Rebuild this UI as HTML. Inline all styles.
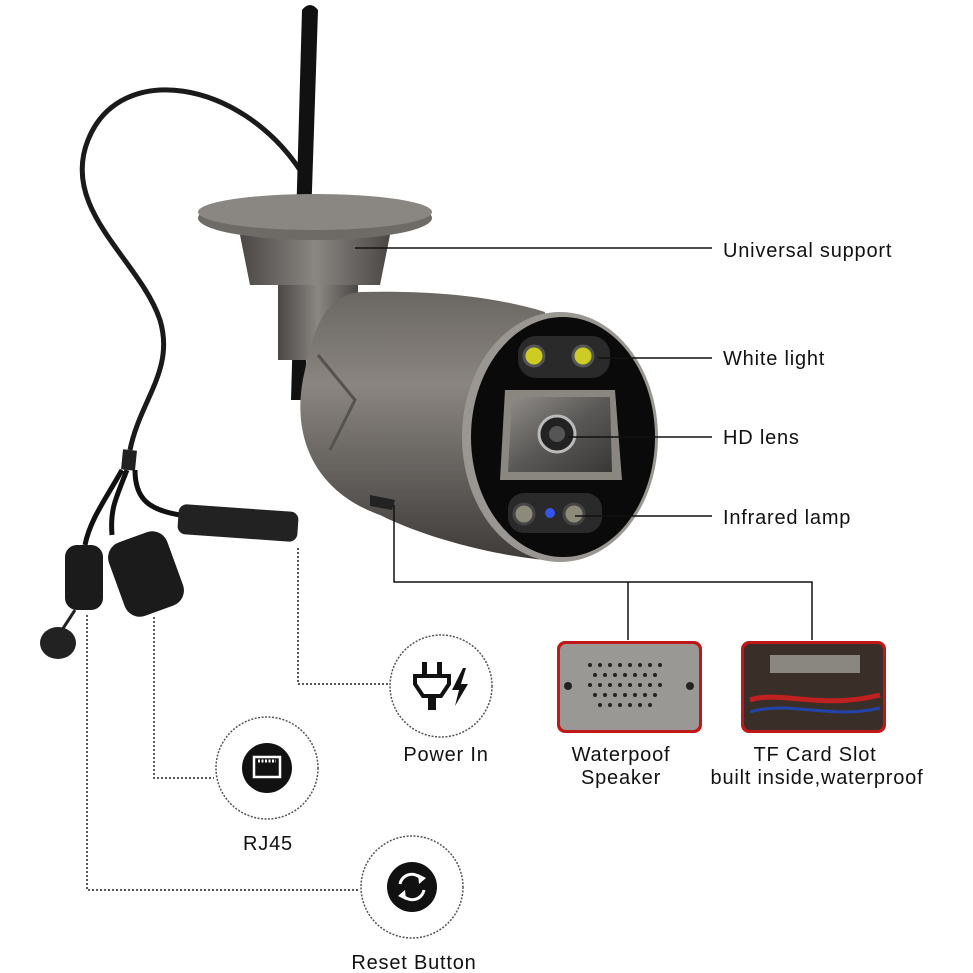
<!DOCTYPE html>
<html><head><meta charset="utf-8"><style>
html,body{margin:0;padding:0;background:#fff;width:973px;height:973px;overflow:hidden}
svg{display:block}
text{font-family:"Liberation Sans",sans-serif;fill:#111;letter-spacing:0.8px}
</style></head><body>
<svg width="973" height="973" viewBox="0 0 973 973" xmlns="http://www.w3.org/2000/svg">
<defs>
<linearGradient id="body" x1="0" y1="0" x2="0" y2="1">
<stop offset="0" stop-color="#6a6662"/><stop offset="0.35" stop-color="#8a8580"/><stop offset="1" stop-color="#3e3b39"/>
</linearGradient>
<linearGradient id="mount" x1="0" y1="0" x2="1" y2="0">
<stop offset="0" stop-color="#4a4745"/><stop offset="0.5" stop-color="#8a8682"/><stop offset="1" stop-color="#4a4745"/>
</linearGradient>
<linearGradient id="lens" x1="0" y1="0" x2="1" y2="1">
<stop offset="0" stop-color="#8f8c88"/><stop offset="0.5" stop-color="#5a5856"/><stop offset="1" stop-color="#3a3836"/>
</linearGradient>
</defs>

<path d="M300 170 C240 80 120 60 88 140 C60 210 140 260 160 320 C175 370 140 400 130 450" fill="none" stroke="#1a1a1a" stroke-width="5"/>
<path d="M130 450 L128 470" stroke="#222" stroke-width="14"/>
<path d="M122 470 C105 500 90 520 85 545" fill="none" stroke="#111" stroke-width="5"/>
<path d="M127 470 C115 500 110 510 112 535" fill="none" stroke="#111" stroke-width="5"/>
<path d="M135 470 C135 500 150 510 180 515" fill="none" stroke="#111" stroke-width="5"/>
<rect x="178" y="508" width="120" height="30" rx="8" fill="#222" transform="rotate(4 238 523)"/>
<rect x="65" y="545" width="38" height="65" rx="12" fill="#1b1b1b"/>
<ellipse cx="58" cy="643" rx="18" ry="16" fill="#222"/>
<path d="M75 610 L62 630" stroke="#222" stroke-width="3"/>
<rect x="115" y="535" width="62" height="78" rx="16" fill="#1b1b1b" transform="rotate(-20 146 574)"/>

<path d="M302 10 Q310 0 318 10 L305 400 L291 400 Z" fill="#111"/>

<rect x="278" y="230" width="80" height="130" fill="url(#mount)"/>
<path d="M240 235 L390 235 L380 285 L250 285 Z" fill="url(#mount)"/>
<ellipse cx="315" cy="218" rx="117" ry="22" fill="#6e6a66"/>
<ellipse cx="315" cy="212" rx="117" ry="18" fill="#8a8682"/>

<path d="M360 292 C440 290 500 298 545 312 L545 560 C500 556 430 540 380 515 C310 490 290 430 305 370 C315 320 330 295 360 292 Z" fill="url(#body)"/>
<path d="M318 355 L355 400 L330 450" fill="none" stroke="#55524f" stroke-width="3"/>
<path d="M370 495 L395 500 L392 510 L370 506 Z" fill="#222"/>

<ellipse cx="560" cy="437" rx="98" ry="125" fill="#9a9692"/>
<ellipse cx="563" cy="437" rx="92" ry="120" fill="#0a0a0a"/>
<rect x="518" y="336" width="92" height="42" rx="18" fill="#2a2a2a"/>
<circle cx="534" cy="356" r="10" fill="#cccc22" stroke="#555" stroke-width="3"/>
<circle cx="583" cy="356" r="10" fill="#cccc22" stroke="#555" stroke-width="3"/>
<path d="M505 390 L615 390 L622 480 L500 480 Z" fill="#8a8680"/>
<path d="M512 397 L610 397 L612 472 L508 472 Z" fill="url(#lens)"/>
<circle cx="557" cy="434" r="18" fill="#222" stroke="#bbb" stroke-width="3"/>
<circle cx="557" cy="434" r="8" fill="#555"/>
<rect x="508" y="493" width="94" height="40" rx="16" fill="#2a2a2a"/>
<circle cx="524" cy="514" r="10" fill="#8c8a78" stroke="#444" stroke-width="3"/>
<circle cx="574" cy="514" r="10" fill="#8c8a78" stroke="#444" stroke-width="3"/>
<circle cx="550" cy="513" r="5" fill="#3355ee"/>

<g stroke="#111" stroke-width="1.5" fill="none">
<line x1="355" y1="248" x2="712" y2="248"/>
<line x1="598" y1="358" x2="712" y2="358"/>
<line x1="568" y1="437" x2="712" y2="437"/>
<line x1="575" y1="516" x2="712" y2="516"/>
<polyline points="394,505 394,582 812,582 812,640"/>
<line x1="628" y1="582" x2="628" y2="640"/>
</g>
<g stroke="#222" stroke-width="1.5" stroke-dasharray="2,2" fill="none">
<polyline points="298,548 298,684 388,684"/>
<polyline points="154,617 154,778 214,778"/>
<polyline points="87,615 87,890 360,890"/>
</g>

<g font-size="20">
<text x="723" y="257">Universal support</text>
<text x="723" y="365">White light</text>
<text x="723" y="444">HD lens</text>
<text x="723" y="524">Infrared lamp</text>
</g>

<rect x="557" y="641" width="145" height="92" rx="8" fill="#c01818"/>
<rect x="560" y="644" width="139" height="86" rx="6" fill="#9a9894"/>
<g fill="#222">
<circle cx="590" cy="665" r="2"/><circle cx="600" cy="665" r="2"/><circle cx="610" cy="665" r="2"/><circle cx="620" cy="665" r="2"/><circle cx="630" cy="665" r="2"/><circle cx="640" cy="665" r="2"/><circle cx="650" cy="665" r="2"/><circle cx="660" cy="665" r="2"/>
<circle cx="595" cy="675" r="2"/><circle cx="605" cy="675" r="2"/><circle cx="615" cy="675" r="2"/><circle cx="625" cy="675" r="2"/><circle cx="635" cy="675" r="2"/><circle cx="645" cy="675" r="2"/><circle cx="655" cy="675" r="2"/>
<circle cx="590" cy="685" r="2"/><circle cx="600" cy="685" r="2"/><circle cx="610" cy="685" r="2"/><circle cx="620" cy="685" r="2"/><circle cx="630" cy="685" r="2"/><circle cx="640" cy="685" r="2"/><circle cx="650" cy="685" r="2"/><circle cx="660" cy="685" r="2"/>
<circle cx="595" cy="695" r="2"/><circle cx="605" cy="695" r="2"/><circle cx="615" cy="695" r="2"/><circle cx="625" cy="695" r="2"/><circle cx="635" cy="695" r="2"/><circle cx="645" cy="695" r="2"/><circle cx="655" cy="695" r="2"/>
<circle cx="600" cy="705" r="2"/><circle cx="610" cy="705" r="2"/><circle cx="620" cy="705" r="2"/><circle cx="630" cy="705" r="2"/><circle cx="640" cy="705" r="2"/><circle cx="650" cy="705" r="2"/>
<circle cx="568" cy="686" r="4"/><circle cx="690" cy="686" r="4"/>
</g>
<rect x="741" y="641" width="145" height="92" rx="8" fill="#c01818"/>
<rect x="744" y="644" width="139" height="86" rx="6" fill="#3a2f28"/>
<rect x="770" y="655" width="90" height="18" fill="#8a8680"/>
<path d="M750 700 C780 690 820 710 880 695" stroke="#c02020" stroke-width="5" fill="none"/>
<path d="M750 712 C790 700 830 720 880 708" stroke="#2244aa" stroke-width="3" fill="none"/>

<g font-size="20" text-anchor="middle">
<text x="621" y="761">Waterpoof</text>
<text x="621" y="784">Speaker</text>
<text x="815" y="761">TF Card Slot</text>
<text x="817" y="784" letter-spacing="0.3">built inside,waterproof</text>
</g>

<g fill="#fff" stroke="#555" stroke-width="1.5" stroke-dasharray="2,1.5">
<circle cx="441" cy="686" r="51"/>
<circle cx="267" cy="768" r="51"/>
<circle cx="412" cy="887" r="51"/>
</g>
<g fill="#111">
<rect x="422" y="662" width="5" height="14"/><rect x="437" y="662" width="5" height="14"/>
<path d="M415 676 L449 676 L449 684 L441 696 L423 696 L415 684 Z" fill="none" stroke="#111" stroke-width="4"/>
<rect x="428" y="696" width="8" height="14"/>
<path d="M463 668 L452 690 L459 690 L455 706 L468 684 L461 684 L466 668 Z"/>
</g>
<circle cx="267" cy="768" r="25" fill="#111"/>
<rect x="254" y="757" width="26" height="20" fill="none" stroke="#fff" stroke-width="2.5"/>
<path d="M258 761 L276 761" stroke="#fff" stroke-width="3" stroke-dasharray="2,1.5"/>
<circle cx="412" cy="887" r="25" fill="#111"/>
<path d="M400 884 A12 12 0 0 1 422 880" fill="none" stroke="#fff" stroke-width="3"/>
<path d="M424 890 A12 12 0 0 1 402 894" fill="none" stroke="#fff" stroke-width="3"/>
<path d="M418 874 L426 878 L419 884 Z" fill="#fff"/>
<path d="M406 900 L398 896 L405 890 Z" fill="#fff"/>

<g font-size="20" text-anchor="middle">
<text x="446" y="761">Power In</text>
<text x="268" y="850">RJ45</text>
<text x="414" y="969">Reset Button</text>
</g>
</svg>
</body></html>
